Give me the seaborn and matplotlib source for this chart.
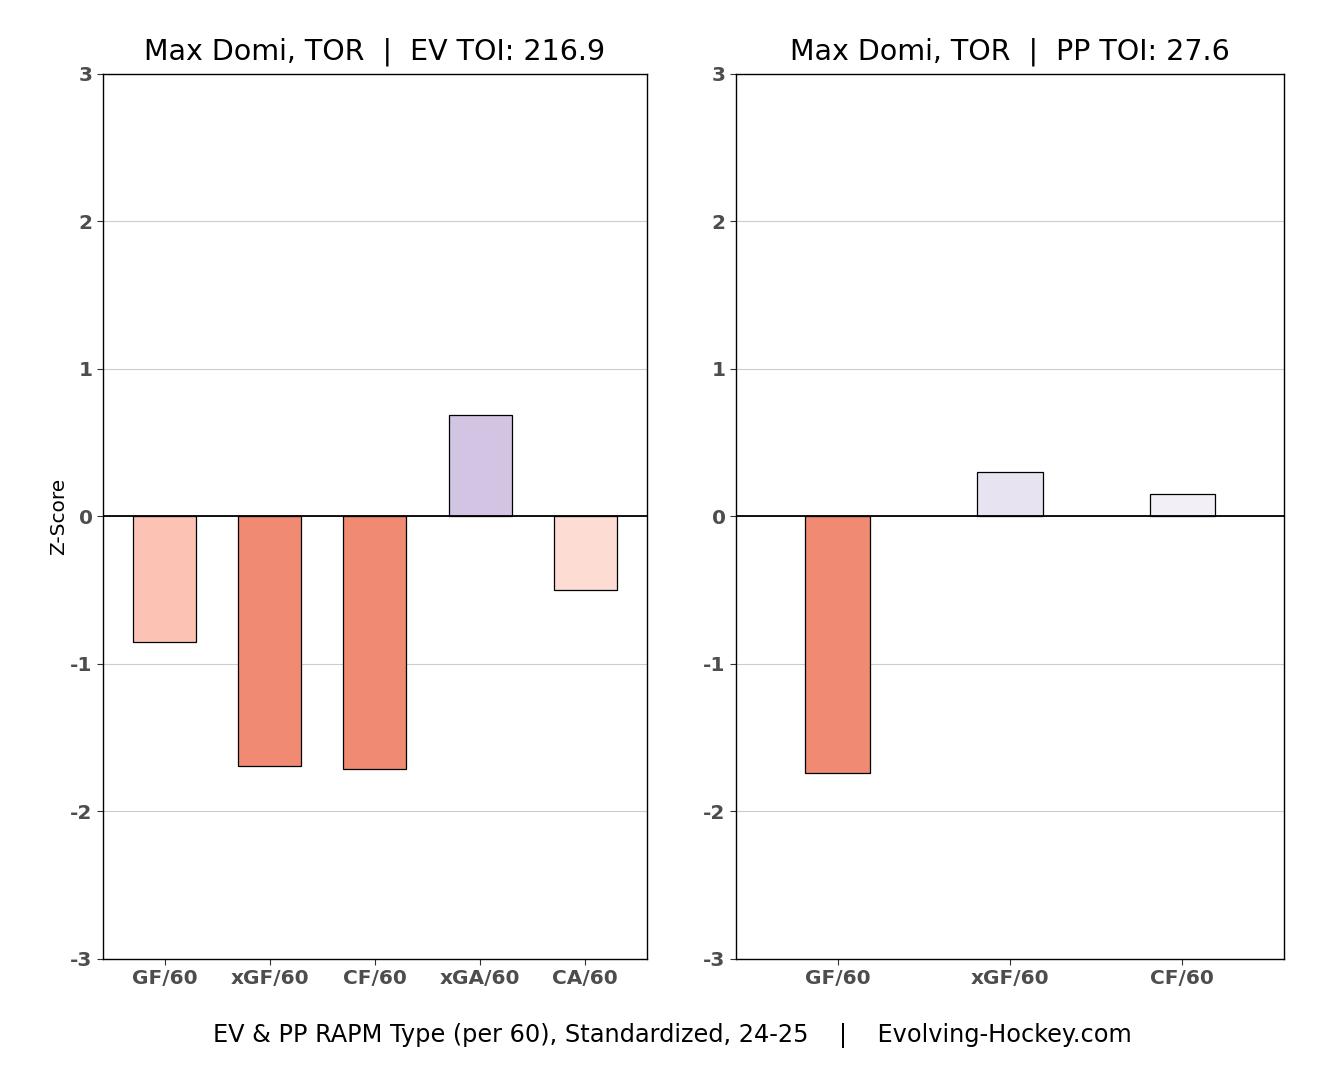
import numpy as np
import pandas as pd
import seaborn as sns
import matplotlib.pyplot as plt

# values
ev_metrics = ["GF/60", "xGF/60", "CF/60", "xGA/60", "CA/60"]
ev_values = [-0.85, -1.69, -1.71, 0.69, -0.50]
ev_colors = ["#fcc3b5", "#f18a73", "#f08a72", "#d2c4e3", "#fddcd3"]

pp_metrics = ["GF/60", "xGF/60", "CF/60"]
pp_values = [-1.74, 0.30, 0.15]
pp_colors = ["#f08a72", "#e8e3f1", "#f2eff6"]

titles = ["Max Domi, TOR  |  EV TOI: 216.9", "Max Domi, TOR  |  PP TOI: 27.6"]
footer = "EV & PP RAPM Type (per 60), Standardized, 24-25    |    Evolving-Hockey.com"

sns.set_style("white")
plt.rcParams['font.family'] = ['DejaVu Sans']
plt.rcParams['axes.unicode_minus'] = False
plt.rcParams['text.color'] = 'black'
plt.rcParams['axes.labelcolor'] = 'black'

fig, axes = plt.subplots(1, 2, figsize=(13.32, 10.69), dpi=100,
                         gridspec_kw={"width_ratios": [544, 548]})
fig.subplots_adjust(left=0.0773, right=0.964, top=0.931, bottom=0.103, wspace=0.163)

panels = [
    (ev_metrics, ev_values, ev_colors, 0.6),
    (pp_metrics, pp_values, pp_colors, 0.38),
]

for ax, (metrics, values, colors, w), title in zip(axes, panels, titles):
    df = pd.DataFrame({"metric": metrics, "z": values})
    sns.barplot(data=df, x="metric", y="z", hue="metric", palette=colors,
                legend=False, width=w, edgecolor="black", linewidth=0.9,
                saturation=1, ax=ax, zorder=3)
    ax.axhline(0, color="black", linewidth=1.3, zorder=4)
    ax.set_ylim(-3, 3)
    ax.set_xlim(-0.59, len(metrics) - 0.41)
    ax.set_yticks([-3, -2, -1, 0, 1, 2, 3])
    ax.yaxis.grid(True, color="#cccccc", linewidth=0.8, zorder=0)
    ax.set_axisbelow(True)
    for s in ax.spines.values():
        s.set_color("black")
        s.set_linewidth(1.0)
    ax.tick_params(axis="both", length=4, color="#333333", labelsize=14.5,
                   labelcolor="#4d4d4d", left=True, bottom=True)
    for lbl in ax.get_xticklabels() + ax.get_yticklabels():
        lbl.set_fontweight("bold")
    ax.set_xlabel("")
    ax.set_ylabel("")
    ax.set_title(title, fontsize=20.5, pad=10, color="black")

axes[0].set_ylabel("Z-Score", fontsize=14.5, labelpad=1.5)
fig.text(0.505, 0.031, footer, ha="center", va="center", fontsize=17.3)

fig.savefig("out.png", dpi=100)
